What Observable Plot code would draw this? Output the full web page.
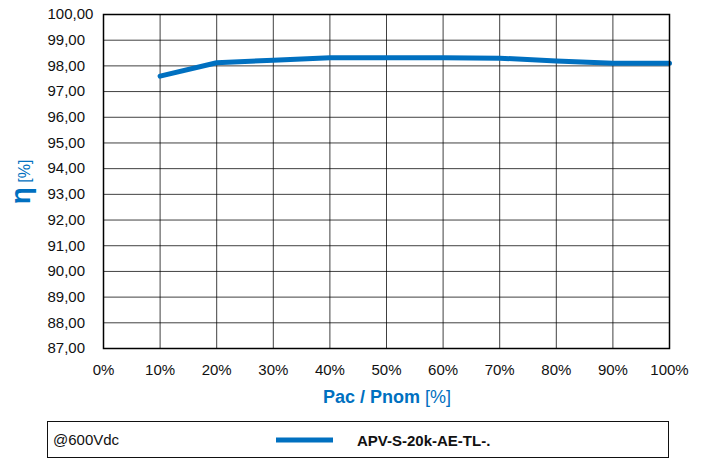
<!DOCTYPE html>
<html>
<head>
<meta charset="utf-8">
<script src="https://cdn.jsdelivr.net/npm/d3@7"></script>
<script src="https://cdn.jsdelivr.net/npm/@observablehq/plot@0.6"></script>
<style>
  html, body { margin: 0; padding: 0; background: #fff; }
  svg { display: block; }
</style>
</head>
<body>
<div id="chart"></div>
<script>
// Data
const load = [10, 20, 30, 40, 50, 60, 70, 80, 90, 100];          // Pac / Pnom [%]
const efficiency = [97.6, 98.12, 98.22, 98.32, 98.32, 98.32, 98.3, 98.19, 98.1, 98.1]; // η [%]
const xTicks = [0, 10, 20, 30, 40, 50, 60, 70, 80, 90, 100];
const yTicks = [87, 88, 89, 90, 91, 92, 93, 94, 95, 96, 97, 98, 99, 100];
const seriesName = "APV-S-20k-AE-TL-.";
const conditionLabel = "@600Vdc";
const xTitle = "Pac / Pnom";
const yTitle = "η";
const unit = "[%]";

const data = load.map((l, i) => ({load: l, eff: efficiency[i]}));
const blue = "#0070c0";
const font = "'Liberation Sans', Arial, Helvetica, sans-serif";

const chart = Plot.plot({
  width: 707,
  height: 459,
  marginLeft: 103,
  marginRight: 38,
  marginTop: 14,
  marginBottom: 111,
  style: {fontFamily: font, fontSize: "15px", color: "#111", background: "#fff"},
  x: {domain: [0, 100]},
  y: {domain: [87, 100], axis: null},
  marks: [
    Plot.gridX(xTicks, {stroke: "#000", strokeOpacity: 0.75, strokeWidth: 1}),
    Plot.gridY(yTicks, {stroke: "#000", strokeOpacity: 0.75, strokeWidth: 1}),
    Plot.axisX(xTicks, {tickSize: 0, tickPadding: 16, tickFormat: d => d + "%", label: null, fontSize: 15}),
    Plot.text(yTicks, {
      y: d => d,
      text: d => d.toFixed(2).replace(".", ","),
      frameAnchor: "left",
      textAnchor: "start",
      dx: -56,
      fontSize: 15,
      fill: "#111"
    }),
    Plot.line(data, {x: "load", y: "eff", stroke: blue, strokeWidth: 5, strokeLinejoin: "round"}),
    Plot.frame({stroke: "#000", strokeWidth: 1.5})
  ]
});

document.getElementById("chart").appendChild(chart);

const svg = d3.select(chart);

// X axis title
const xt = svg.append("text")
  .attr("x", 387).attr("y", 403)
  .attr("text-anchor", "middle")
  .attr("fill", blue)
  .style("font-family", font)
  .style("font-size", "18px");
xt.append("tspan").attr("font-weight", "bold").text(xTitle);
xt.append("tspan").text(" " + unit);

// Y axis title (rotated)
const yt = svg.append("text")
  .attr("transform", "translate(30,182) rotate(-90)")
  .attr("text-anchor", "middle")
  .attr("fill", blue)
  .style("font-family", font);
yt.append("tspan").attr("font-weight", "bold").style("font-size", "28px").text(yTitle);
yt.append("tspan").style("font-size", "16px").text(" " + unit);

// Legend box
const lg = svg.append("g").attr("text-anchor", "start");
lg.append("rect")
  .attr("x", 47.5).attr("y", 421.5).attr("width", 621).attr("height", 36)
  .attr("fill", "#fff").attr("stroke", "#111").attr("stroke-width", 1);
lg.append("text")
  .attr("x", 53).attr("y", 445)
  .attr("text-anchor", "start")
  .style("font-family", font).style("font-size", "15px")
  .attr("fill", "#111")
  .text(conditionLabel);
lg.append("line")
  .attr("x1", 276).attr("x2", 333).attr("y1", 440).attr("y2", 440)
  .attr("stroke", blue).attr("stroke-width", 5);
lg.append("text")
  .attr("x", 357).attr("y", 446)
  .attr("text-anchor", "start")
  .style("font-family", font).style("font-size", "15px")
  .attr("font-weight", "bold")
  .attr("fill", "#111")
  .text(seriesName);
</script>
</body>
</html>
